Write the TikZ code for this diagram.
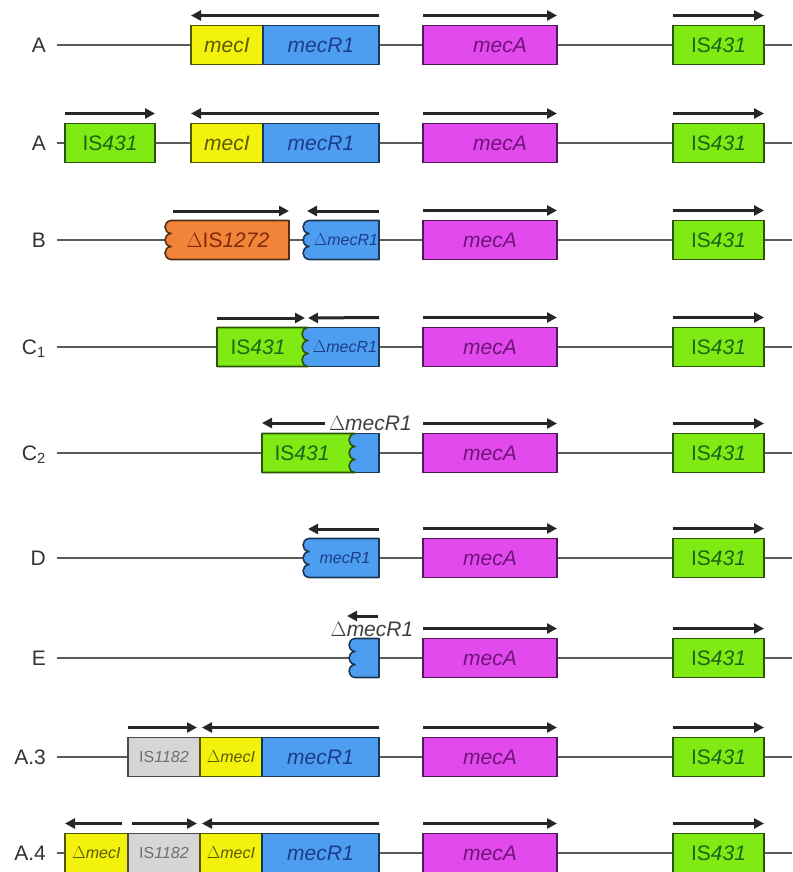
\documentclass[tikz,border=0pt]{standalone}
\usepackage{fontspec}
\setmainfont{Liberation Sans}
\usetikzlibrary{arrows.meta}
\definecolor{cyel}{HTML}{F2F20C}
\definecolor{cblu}{HTML}{4D9DF0}
\definecolor{cmag}{HTML}{E24AEE}
\definecolor{cgrn}{HTML}{80EA14}
\definecolor{cora}{HTML}{F2843A}
\definecolor{cgry}{HTML}{D6D6D6}
\definecolor{tyel}{HTML}{5A5A05}
\definecolor{tblu}{HTML}{1E3C88}
\definecolor{tmag}{HTML}{6E1478}
\definecolor{tgrn}{HTML}{1E6414}
\definecolor{tora}{HTML}{802A0C}
\definecolor{tgry}{HTML}{6E6E6E}
\definecolor{bb}{HTML}{5A5A5A}
\tikzset{
  bigf/.style={font=\fontsize{21pt}{21pt}\selectfont},
  smf/.style={font=\fontsize{16pt}{16pt}\selectfont},
  box/.style={draw, inner sep=0pt, outer sep=0pt, minimum height=39pt, anchor=west, line width=1.6pt, bigf},
  yel/.style={box, fill=cyel, draw=cyel!35!black, text=tyel},
  blu/.style={box, fill=cblu, draw=cblu!35!black, text=tblu},
  mag/.style={box, fill=cmag, draw=cmag!35!black, text=tmag},
  grn/.style={box, fill=cgrn, draw=cgrn!35!black, text=tgrn},
  gry/.style={box, fill=cgry, draw=cgry!35!black, text=tgry},
  backbone/.style={draw=bb, line width=2pt},
  garr/.style={draw=black!85, line width=3pt, -{Triangle[length=10pt,width=10pt]}},
  rowlbl/.style={bigf, text=black!80, anchor=base east, inner sep=0pt},
  txt/.style={inner sep=0pt},
}
% wavy-edged box: #1 x of wavy edge (cusps), #2 x of straight edge, #3 line y, #4 fill, #5 draw
\newcommand\wavybox[5]{%
  \filldraw[fill=#4, draw=#5, line width=1.6pt, line join=round]
    (#2,#3-19.5) -- (#1,#3-19.5)
    .. controls (#1-8,#3-18.5) and (#1-8,#3-7.5) .. (#1,#3-6.5)
    .. controls (#1-8,#3-5.5) and (#1-8,#3+5.5) .. (#1,#3+6.5)
    .. controls (#1-8,#3+7.5) and (#1-8,#3+18.5) .. (#1,#3+19.5)
    -- (#2,#3+19.5) -- cycle;}
% common part of each row: #1 id, #2 line y, #3 label, #4 mecA text shift
\newcommand\rowbase[4]{%
  \node[rowlbl] (L#1) at (46,#2+7.5) {#3};
  \coordinate (S#1) at (57,#2);
  \coordinate (E#1) at (792,#2);
  \draw[backbone] (S#1) -- (E#1);
  \node[mag, minimum width=134pt] (mA#1) at (423,#2) {};
  \node[bigf, txt, text=tmag] (mAt#1) at ([xshift=#4]mA#1.center) {\itshape mecA};
  \node[grn, minimum width=91pt] (IS#1) at (673,#2) {IS\textit{431}};
  \draw[garr] ([yshift=10pt]mA#1.north west) -- ([yshift=10pt]mA#1.north east);
  \draw[garr] ([yshift=10pt]IS#1.north west) -- ([yshift=10pt]IS#1.north east);
}
\begin{document}
\begin{tikzpicture}[x=1pt,y=-1pt]
\useasboundingbox (0,0) rectangle (792,872);

% Row 1: A
\rowbase{1}{45}{A}{10pt}
\node[yel, minimum width=72pt] (mI1) at (191,45) {\itshape mecI};
\node[blu, minimum width=116pt] (mR1) at (263,45) {\itshape mecR1};
\draw[garr] ([yshift=10pt]mR1.north east) -- ([yshift=10pt]mI1.north west);

% Row 2: A
\rowbase{2}{143}{A}{10pt}
\node[grn, minimum width=90pt] (ISa2) at (65,143) {IS\textit{431}};
\draw[garr] ([yshift=10pt]ISa2.north west) -- ([yshift=10pt]ISa2.north east);
\node[yel, minimum width=72pt] (mI2) at (191,143) {\itshape mecI};
\node[blu, minimum width=116pt] (mR2) at (263,143) {\itshape mecR1};
\draw[garr] ([yshift=10pt]mR2.north east) -- ([yshift=10pt]mI2.north west);

% Row 3: B
\rowbase{3}{240}{B}{0pt}
\wavybox{171}{289}{240}{cora}{cora!35!black}
\node[bigf, txt, text=tora] (IS1272) at (228,240) {\(\Delta\)IS\textit{1272}};
\wavybox{309}{379}{240}{cblu}{cblu!35!black}
\node[smf, txt, text=tblu] (dR3) at (346,240) {\itshape\(\Delta\)mecR1};
\coordinate (a3s) at (173,211); \coordinate (a3e) at (289,211);
\draw[garr] (a3s) -- (a3e);
\coordinate (b3s) at (379,211); \coordinate (b3e) at (307,211);
\draw[garr] (b3s) -- (b3e);

% Row 4: C1
\rowbase{4}{347}{C\textsubscript{1}}{0pt}
\node[blu, minimum width=79pt] (mR4) at (300,347) {};
\wavybox{308}{217}{347}{cgrn}{cgrn!35!black}
\node[bigf, txt, text=tgrn] (IS4) at (258,347) {IS\textit{431}};
\node[smf, txt, text=tblu] (dR4) at (345,347) {\itshape\(\Delta\)mecR1};
\coordinate (a4s) at (217,318); \coordinate (a4e) at (305,318);
\draw[garr] (a4s) -- (a4e);
\draw[garr] ([yshift=10pt]mR4.north east) -- (308,318);

% Row 5: C2
\rowbase{5}{453}{C\textsubscript{2}}{0pt}
\node[blu, minimum width=39pt] (mR5) at (340,453) {};
\wavybox{355}{262}{453}{cgrn}{cgrn!35!black}
\node[bigf, txt, text=tgrn] (IS5) at (302,453) {IS\textit{431}};
\coordinate (a5s) at (325,423); \coordinate (a5e) at (262,423);
\draw[garr] (a5s) -- (a5e);
\node[bigf, txt, text=black!75, anchor=west] (dR5) at (329,423) {\itshape\(\Delta\)mecR1};

% Row 6: D
\rowbase{6}{558}{D}{0pt}
\wavybox{309}{379}{558}{cblu}{cblu!35!black}
\node[smf, txt, text=tblu] (R6) at (345,558) {\itshape mecR1};
\coordinate (a6s) at (379,529); \coordinate (a6e) at (308,529);
\draw[garr] (a6s) -- (a6e);

% Row 7: E
\rowbase{7}{658}{E}{0pt}
\wavybox{355}{379}{658}{cblu}{cblu!35!black}
\coordinate (a7s) at (378,616); \coordinate (a7e) at (347,616);
\draw[garr] (a7s) -- (a7e);
\node[bigf, txt, text=black!75] (dR7) at (372,629) {\(\Delta\)\textit{mecR1}};

% Row 8: A.3
\rowbase{8}{757}{A.3}{0pt}
\node[gry, minimum width=72pt, smf] (IS8) at (128,757) {IS\textit{1182}};
\node[yel, minimum width=62pt, smf] (dI8) at (200,757) {\itshape\(\Delta\)mecI};
\node[blu, minimum width=117pt] (mR8) at (262,757) {\itshape mecR1};
\draw[garr] ([yshift=10pt]IS8.north west) -- ([xshift=-3pt,yshift=10pt]IS8.north east);
\draw[garr] ([yshift=10pt]mR8.north east) -- ([xshift=2pt,yshift=10pt]dI8.north west);

% Row 9: A.4
\rowbase{9}{853}{A.4}{0pt}
\node[yel, minimum width=63pt, smf] (dIa9) at (65,853) {\itshape\(\Delta\)mecI};
\node[gry, minimum width=72pt, smf] (IS9) at (128,853) {IS\textit{1182}};
\node[yel, minimum width=62pt, smf] (dI9) at (200,853) {\itshape\(\Delta\)mecI};
\node[blu, minimum width=117pt] (mR9) at (262,853) {\itshape mecR1};
\draw[garr] ([xshift=-6pt,yshift=10pt]dIa9.north east) -- ([yshift=10pt]dIa9.north west);
\draw[garr] ([xshift=4pt,yshift=10pt]IS9.north west) -- ([xshift=-3pt,yshift=10pt]IS9.north east);
\draw[garr] ([yshift=10pt]mR9.north east) -- ([xshift=2pt,yshift=10pt]dI9.north west);
\end{tikzpicture}
\end{document}
